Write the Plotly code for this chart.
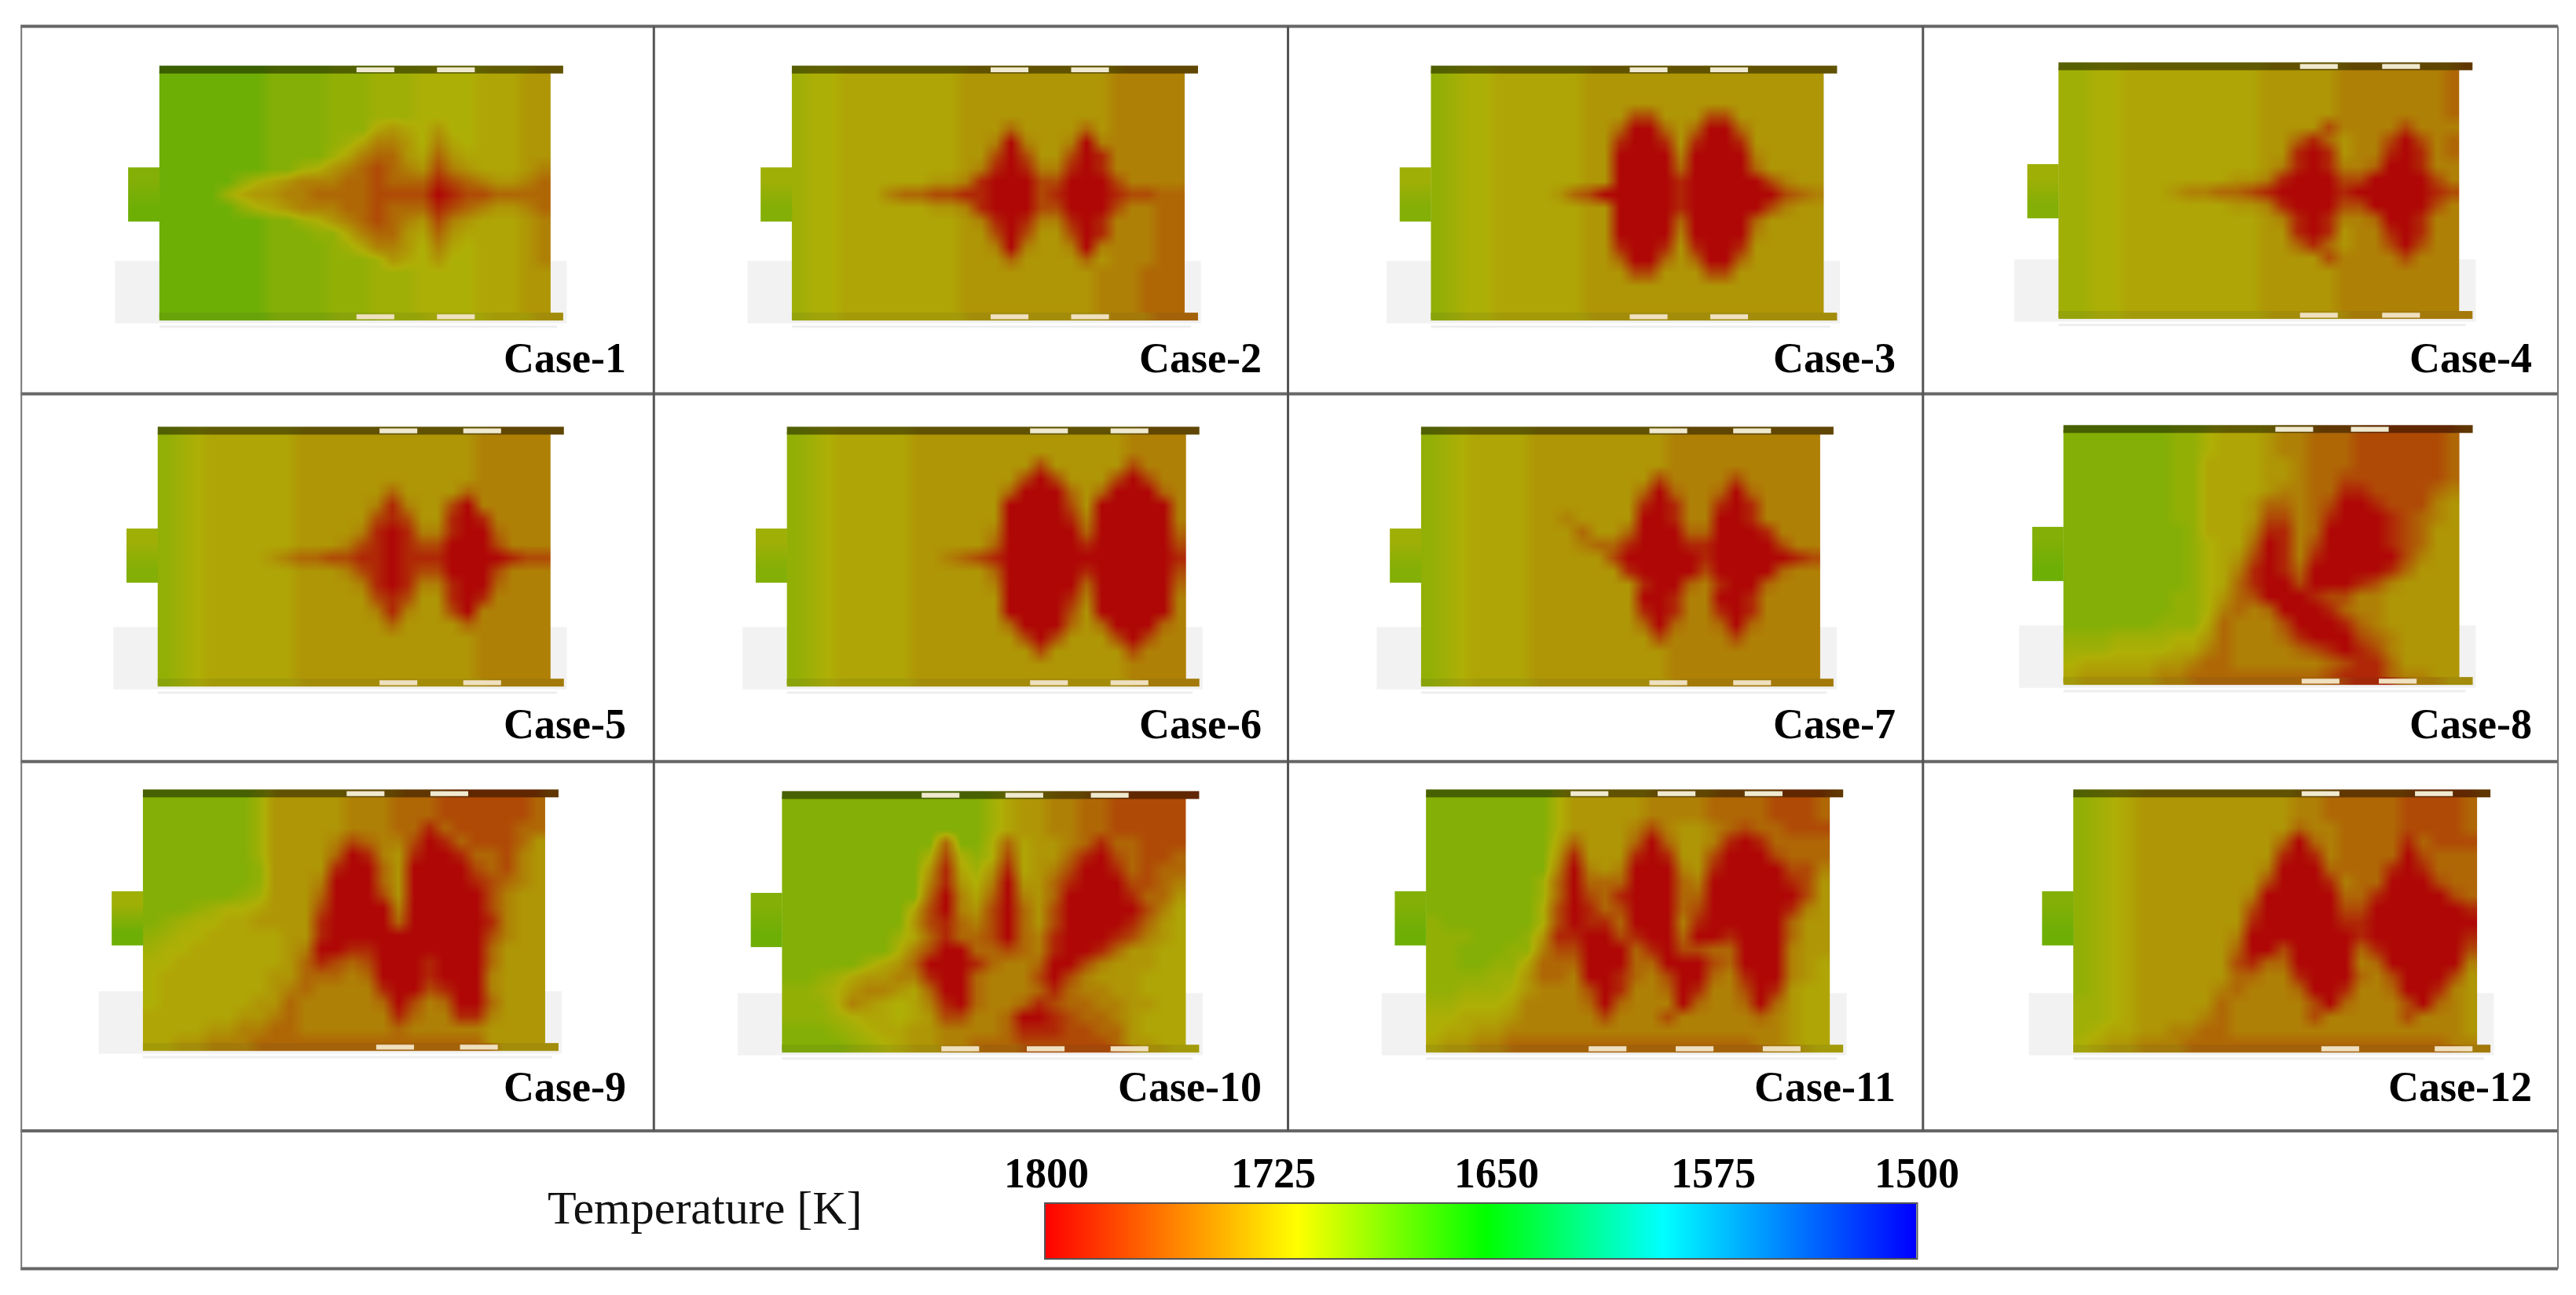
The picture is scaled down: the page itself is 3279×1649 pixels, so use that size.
import numpy as np
import plotly.graph_objects as go

# temperature (K) read for each colour class used in the field tables below
LEVELS = {'0':1800,'1':1783,'2':1765,'3':1750,'4':1737,'5':1726,'6':1718,'7':1712,
          '8':1707,'9':1702,'a':1696,'b':1688}

CASE_1 = [
"bbbbbbbaaaa999888777766655",
"bbbbbbbaaaa999888777766655",
"bbbbbbbaaaa999888777766655",
"bbbbbbbaaaa999888777766655",
"bbbbbbbaaaa999656757766655",
"bbbbbbbaaaa986445746766655",
"bbbbbbbaaaa864335635666655",
"bbbbbbbaa87543234524566654",
"bbbbb976544433233312345543",
"bbbb8655443333222201223333",
"bbbbb976544433233312345543",
"bbbbbbbaa87543234524566654",
"bbbbbbbaaa9964335635666654",
"bbbbbbbaaaa986445746766654",
"bbbbbbbaaaa999856757766654",
"bbbbbbbaaaa999888777766655",
"bbbbbbbaaaa999888777766655",
"bbbbbbbaaaa999888777766655",
"bbbbbbbaaaa999888777766655",
]
CASE_2 = [
"87766666666555555555544444",
"87766666666555555555544444",
"87766666666555555555544444",
"87766666666555555555544444",
"87766666666555355553544444",
"87766666666554045540444444",
"87766666666552025520144444",
"87766666666541014410144444",
"87766666655410002200024444",
"87766643322110002100012233",
"87766666655410002200024433",
"87766666666541014410144433",
"87766666666552025520144433",
"87766666666554045540444433",
"87766666666555355553544433",
"87766666666555555555444333",
"87766666666555555555444333",
"87766666666555555555444333",
"87766666666555555555444333",
]
CASE_3 = [
"98776666665555555555555555",
"98776666665555555555555555",
"98776666665555555555555555",
"98776666665552255522555555",
"98776666665530035300355555",
"98776666665510015100155555",
"98776666665500004000045555",
"98776666665500003000035555",
"98776666665500001000002455",
"98776666532000001000000234",
"98776666665500001000002455",
"98776666665500003000035555",
"98776666665500004000045555",
"98776666665510015100155555",
"98776666665530035300355555",
"98776666665552255522555555",
"98776666665555555555555555",
"98776666665555555555555555",
"98776666665555555555555555",
]
CASE_4 = [
"88776666666665555544444443",
"88776666666665555544444443",
"88776666666665555544444443",
"88776666666665555544444443",
"88776666666665555244442444",
"88776666666665531354420243",
"88776666666665510154410143",
"88776666666665410144300144",
"88776666666554100022000024",
"88776665443321000010000012",
"88776666666554100022000024",
"88776666666665410144300144",
"88776666666665510154410144",
"88776666666665531354420244",
"88776666666665555244442444",
"88776666666665555544444444",
"88776666666665555544444444",
"88776666666665555544444444",
"88776666666665555544444444",
]
CASE_5 = [
"98766666655555555555544444",
"98766666655555555555544444",
"98766666655555555555544444",
"98766666655555555555544444",
"98766666655555535555344444",
"98766666655555414552044444",
"98766666655555212551014444",
"98766666655554101441003444",
"98766666655542101220002444",
"98766665433221101110000122",
"98766666655542101220002444",
"98766666655554101441003444",
"98766666655555212551014444",
"98766666655555414552044444",
"98766666655555535555344444",
"98766666655555555555544444",
"98766666655555555555544444",
"98766666655555555555544444",
"98766666655555555555544444",
]
CASE_6 = [
"98766666555555555555554444",
"98766666555555555555554444",
"98766666555555552555552444",
"98766666555555520255520244",
"98766666555555300035300034",
"98766666555555000025000004",
"98766666555555000014000004",
"98766666555554000003000003",
"98766666555553000001000002",
"98766666554321000000000001",
"98766666555553000001000002",
"98766666555554000003000003",
"98766666555555000014000004",
"98766666555555000025000004",
"98766666555555300035300034",
"98766666555555520255520244",
"98766666555555552555552444",
"98766666555555555555554444",
"98766666555555555555554444",
]
CASE_7 = [
"98766665555555554444444444",
"98766665555555554444444444",
"98766665555555554444444444",
"98766665555555524444244444",
"98766665555555303443034444",
"98766665555555101441014444",
"98766665545555001440014444",
"98766665553553000330001444",
"98766665554331000110000244",
"98766665555520000010000012",
"98766665555551000020000344",
"98766665555555100341003444",
"98766665555555001440014444",
"98766665555555101441014444",
"98766665555555303443034444",
"98766665555555524444244444",
"98766665555555554444444444",
"98766665555555554444444444",
"98766665555555554444444444",
]
CASE_8 = [
"aaaaaaa9976665443332222223",
"aaaaaaa9976665443332222223",
"aaaaaaa9966665543332222223",
"aaaaaaa9966665543322222223",
"aaaaaaa9966665443311222234",
"aaaaaaa9966653343200122245",
"aaaaaaa9966652243100012345",
"aaaaaaaa966641143000012355",
"aaaaaaaa976630142000012355",
"aaaaaaaa976520141000002455",
"aaaaaaaa976410130000013555",
"aaaaaaaa976310020001245555",
"aaaaaaa9975320001224455555",
"aaaaaaa9974343000134455555",
"aaaaaa99963444200013455555",
"99988887753444310002345555",
"88877776643444432101245555",
"76666655433444444321135555",
"65555544333333333211134455",
]
CASE_9 = [
"aaaaaaa8555554443332222223",
"aaaaaaa8555554443332222223",
"aaaaaaa8555554443313222233",
"aaaaaaa8555542344201322235",
"aaaaaaa8555530145100133245",
"aaaaaaa9555510035000023245",
"aaaaaaa9555400035000012345",
"aaaaaa98555300025000002455",
"aaa98776555200004000002455",
"a9877665555100003000001455",
"98776666655100000000002455",
"87766666654001100000003555",
"77666666653123200010003555",
"76666666553334300010004555",
"76666666543444410021004555",
"76666665534444430243003555",
"66666655434444441344114555",
"66665544334444443444445555",
"66554443333333333333335555",
]
CASE_10 = [
"aaaaaaaaaaaaa8655443322222",
"aaaaaaaaaaaaa8655443322222",
"aaaaaaaaaaaaa8655443322222",
"aaaaaaaaaa3aa7365543133222",
"aaaaaaaaa72797265531023223",
"aaaaaaaaa51685165420013233",
"aaaaaaaaa41574055310002234",
"aaaaaaaaa30463045300001335",
"aaaaaaaa620452035200000246",
"aaaaaaaa521342035200001356",
"aaaaaaa8631332034100012456",
"aaaaaaa7420033234100135566",
"aaaaa865300013443002455566",
"aa986554410034442024555666",
"99875445630034443134455666",
"99974567641034431233445566",
"99987667652244300123345666",
"aaa98766554444311122335666",
"aaaa9876554433322222235566",
]
CASE_11 = [
"aaaaaaaa755555444433332223",
"aaaaaaaa755555444433332223",
"aaaaaaaa755554245543233222",
"aaaaaaaa635553035541013333",
"aaaaaaaa515551015520002333",
"aaaaaaaa404540004510000224",
"aaaaaaa8303330003400000125",
"aaaaaaa8302310003300000025",
"aaaaaaa7201320003200000145",
"9aaaaaa7201130004100000355",
"999aaa95110021003001000355",
"99aaa994220003102233000455",
"99aa9963330003300023000456",
"99998853340013420034100456",
"99888754442014430144201566",
"88777644443034440344303566",
"77666544444244424444434566",
"76655444444444444444444566",
"65544333333333333333344566",
]
CASE_12 = [
"98765555555555443333322223",
"98765555555555443333322223",
"98765555555555344333322223",
"98765555555553034333313222",
"98765555555551014333302333",
"98765555555540003333101333",
"98765555555520001433000233",
"98765555555400000331000023",
"98765555555200000220000001",
"98765555555100000110000000",
"98765555554000000010000001",
"98765555553002000031000002",
"98765555552133000043000004",
"98765555553344100034200025",
"98765555543444300144300145",
"88765555534444420344420345",
"88765555434444424444424445",
"87665544334444444444444445",
"76554443333333333333333344",
]
CASES = [CASE_1, CASE_2, CASE_3, CASE_4, CASE_5, CASE_6, CASE_7, CASE_8, CASE_9, CASE_10, CASE_11, CASE_12]
CASE_LABELS = [f"Case-{i}" for i in range(1, 13)]

# inlet temperature classes (top, bottom)
INLETS = ["ab","8a","8a","8a","8a","8a","8a","ab","8b","ab","ab","ab"]

# panel rectangles (left, right, top, bottom) in layout units
PANELS = [(97,335,43,194),(482,721,43,194),(871,1110,43,194),(1253,1497,41,193),
          (96,335,263,417),(479,722,263,417),(865,1108,263,417),(1256,1497,262,416),
          (87,332,484,639),(476,722,485,640),(868,1114,484,640),(1262,1508,484,640)]
SLOTS_TOP = [[217,266],[603,652],[992,1041],[1400,1450],[231,282],[627,676],[1004,1055],[1385,1431],
             [211,262],[561,612,664],[956,1009,1062],[1401,1470]]
SLOTS_BOT = [[217,266],[603,652],[992,1041],[1400,1450],[231,282],[627,676],[1004,1055],[1401,1448],
             [229,280],[573,625,676],[967,1020,1073],[1413,1482]]
LABEL_POS = [(382,218),(769,218),(1155,218),(1542,218),(382,441),(769,441),(1155,441),(1542,441),
             (382,662),(769,662),(1155,662),(1542,662)]

BAR_TICKS = [1800, 1725, 1650, 1575, 1500]
BAR_TICK_X = [637, 775, 911, 1043, 1167]

def stops(f, add=0):
    base = [(0,(0,0,255)),(0.29,(0,255,255)),(0.493,(0,255,0)),(0.71,(255,255,0)),(1,(255,0,0))]
    return [[n, "rgb(%d,%d,%d)" % tuple(min(255, int(c*f+add)) for c in col)] for n, col in base]

BRIGHT, FIELD, DARK, MID = stops(1), stops(.665, 6), stops(.38), stops(.6, 10)

def decode(rows):
    out = []
    for r in rows:
        r = r.replace(" ", "")
        r = (r + r[-1]*26)[:26]
        out.append([LEVELS[c] for c in r])
    return out

fig = go.Figure()
shapes, ann = [], []
common = dict(zmin=1500, zmax=1800, showscale=False, hoverinfo="skip")

for i, rows in enumerate(CASES):
    L, R, T, B = PANELS[i]
    z = decode(rows)
    ix = L - 19
    ih0 = T + 59
    # light grey axis box behind the lower part of the model
    shapes.append(dict(type="rect", x0=L-27, x1=R+10, y0=B-35, y1=B+3, fillcolor="#f2f2f2",
                       line_width=0, layer="below"))
    shapes.append(dict(type="line", x0=L, x1=R+4, y0=B+5, y1=B+5, line=dict(color="#eeeeee", width=3), layer="below"))
    dx, dy = (R-L)/26, (B-T)/19
    fig.add_trace(go.Heatmap(z=z, x0=L+dx/2, dx=dx, y0=T+dy/2, dy=dy, zsmooth="best", colorscale=FIELD, **common))
    fig.add_trace(go.Heatmap(z=[[LEVELS[INLETS[i][0]]]*2, [LEVELS[INLETS[i][1]]]*2],
                             x0=ix+4.75, dx=9.5, y0=ih0+8.25, dy=16.5, zsmooth="best", colorscale=FIELD, **common))
    sdx = (R+8-L)/26
    fig.add_trace(go.Heatmap(z=[z[0]], x0=L+sdx/2, dx=sdx, y0=T-0.5, dy=5, colorscale=DARK, zsmooth="best", **common))
    fig.add_trace(go.Heatmap(z=[z[-1]], x0=L+sdx/2, dx=sdx, y0=B-1, dy=5, colorscale=MID, zsmooth="best", **common))
    for s in SLOTS_TOP[i]:
        shapes.append(dict(type="rect", x0=s, x1=s+23, y0=T-2, y1=T+1, fillcolor="#efe9cf", line_width=0))
    for s in SLOTS_BOT[i]:
        shapes.append(dict(type="rect", x0=s, x1=s+23, y0=B-2.5, y1=B+0.5, fillcolor="#efe0c0", line_width=0))
    lx, ly = LABEL_POS[i]
    ann.append(dict(x=lx, y=ly, text=f"<b>{CASE_LABELS[i]}</b>", xanchor="right", yanchor="middle",
                    showarrow=False, font=dict(family="Liberation Serif", size=54, color="#000000")))

# temperature key
ramp = np.linspace(1800, 1500, 556)
fig.add_trace(go.Heatmap(z=[ramp], x0=636, dx=(1167-636)/556, y0=750, dy=34, colorscale=BRIGHT, **common))
shapes.append(dict(type="rect", x0=636, x1=1167, y0=733, y1=767, line=dict(color="#555555", width=2)))
for t, x in zip(BAR_TICKS, BAR_TICK_X):
    ann.append(dict(x=x, y=715, text=f"<b>{t}</b>", showarrow=False, xanchor="center", yanchor="middle",
                    font=dict(family="Liberation Serif", size=54, color="#000000")))
ann.append(dict(x=429, y=736, text="Temperature [K]", showarrow=False, xanchor="center", yanchor="middle",
                font=dict(family="Liberation Serif", size=60, color="#111111")))

# table frame
for y in (16, 240, 464, 689, 773):
    shapes.append(dict(type="line", x0=12.5, x1=1557, y0=y, y1=y, line=dict(color="#666666", width=4)))
for x in (13, 1557):
    shapes.append(dict(type="line", x0=x, x1=x, y0=16, y1=773, line=dict(color="#777777", width=2)))
for x in (398, 784, 1170.5):
    shapes.append(dict(type="line", x0=x, x1=x, y0=16, y1=689, line=dict(color="#555555", width=3)))

# the page keeps an 8 px body margin, so the axes start 8 px into the reference's frame
OFFSET = 8 / (3279 / 1568)
W, H = 3263, 1633
fig.update_layout(width=W, height=H, margin=dict(l=0, r=0, t=0, b=0), paper_bgcolor="white",
                  plot_bgcolor="white", shapes=shapes, annotations=ann, showlegend=False,
                  xaxis=dict(range=[OFFSET, OFFSET + W * 1568 / 3279], visible=False, fixedrange=True),
                  yaxis=dict(range=[OFFSET + H * 789 / 1649, OFFSET], visible=False, fixedrange=True))
fig.write_html("out.html")
